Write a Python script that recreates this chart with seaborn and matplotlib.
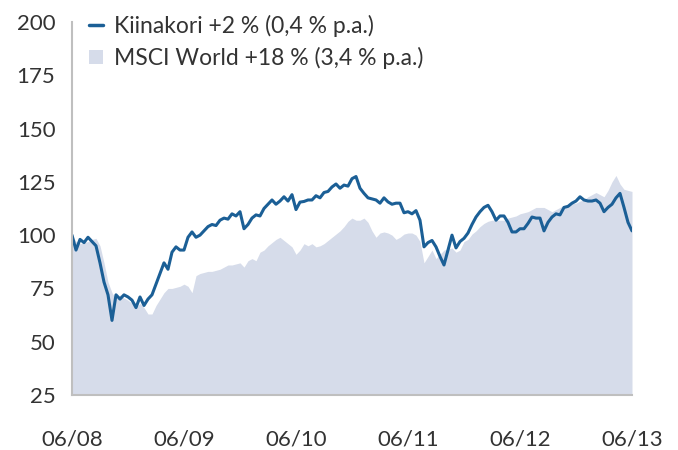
import pandas as pd
import numpy as np
import matplotlib
matplotlib.use('Agg')
import matplotlib.pyplot as plt
from matplotlib.lines import Line2D
from matplotlib.patches import Patch
import seaborn as sns

# Data (indexed to 100, roughly every 13 days from 06/2008 to 06/2013)
kiinakori = [
    100, 93, 98, 96.5, 99, 97, 95, 87, 78, 72,
    60, 72, 70, 72, 71, 69.5, 66, 71, 67, 70,
    72, 77, 82, 87, 84, 92, 94.5, 93, 93, 99,
    101.5, 99, 100, 102, 104, 105, 104.5, 107, 108, 107.5,
    110, 109, 111, 103, 105, 108, 109.5, 109, 112.5, 114.5,
    116.5, 114.5, 116, 118, 116, 119, 112, 115.5, 115.8, 116.5,
    116.5, 118.5, 117.5, 120, 120.5, 122.6, 124, 122, 123.5, 123,
    126.5, 127.5, 122, 119.6, 117.5, 117, 116.5, 115, 117.5, 115.6,
    114.5, 115, 115, 110.5, 111, 110, 111.5, 107, 94.5, 96.5,
    97.5, 94.5, 90, 86, 93, 100, 94, 97, 98.5, 101,
    105, 108.5, 111, 113, 114, 111, 107, 109, 109, 106,
    101.5, 101.5, 103, 103, 105.5, 108.5, 108, 108, 102, 106,
    108.5, 110, 109.5, 113, 113.5, 115, 116, 118, 116.5, 116,
    116, 116.5, 115, 111, 113, 114.5, 117.5, 119.6, 113, 106,
    102,
]
msci_world = [
    100, 97, 96, 96.5, 97, 98, 98.5, 95, 87, 78,
    73, 70, 72, 70.5, 69.5, 68, 66, 68, 66, 63,
    63, 67, 70, 73, 75, 75, 75.5, 76, 77, 76,
    73, 81, 82, 82.5, 83, 83, 83.5, 84, 85, 86,
    86, 86.5, 87, 85, 88, 89, 88, 92, 93, 95,
    96.5, 98, 99, 97.5, 96, 94.5, 91, 93, 96, 95,
    96, 94.5, 95, 96, 97.5, 99, 100.5, 102, 104, 106.5,
    108, 107, 107, 108, 106, 102, 99, 101, 101.5, 101,
    100, 98, 99, 100.5, 101, 101, 100, 97, 87, 90,
    93, 89, 91, 93, 93.5, 94, 92, 93, 97, 98,
    100.5, 102, 104, 105.5, 106.5, 107, 107, 107, 107, 108,
    108.5, 109, 110, 110.5, 111, 112, 113, 113, 113, 112,
    111, 112, 113, 114, 114, 115, 115, 116, 116.5, 118,
    119, 120, 119, 118, 121, 125, 128, 124, 121.5, 121,
    120.5,
]
dates = pd.date_range('2008-06-01', '2013-06-01', periods=len(kiinakori))
tick_dates = pd.to_datetime(['2008-06-01', '2009-06-01', '2010-06-01',
                             '2011-06-01', '2012-06-01', '2013-06-01'])
tick_labels = ['06/08', '06/09', '06/10', '06/11', '06/12', '06/13']
labels = ['Kiinakori +2 % (0,4 % p.a.)', 'MSCI World +18 % (3,4 % p.a.)']

df = pd.DataFrame({'date': dates, 'kiinakori': kiinakori, 'msci': msci_world})

line_color = '#1b5f96'
area_color = '#d6dcea'
text_color = '#333333'

sns.set_theme(style='white')
plt.rcParams['font.family'] = ['Lato', 'DejaVu Sans']

fig = plt.figure(figsize=(6.78, 4.5), dpi=100)
ax = fig.add_axes([72 / 678, 55 / 450, 560 / 678, 373 / 450])

ax.fill_between(df['date'], 0, df['msci'], color=area_color, lw=0)
sns.lineplot(data=df, x='date', y='kiinakori', ax=ax, color=line_color, lw=2.2)

ax.set_xlim(dates[0], dates[-1])
ax.set_ylim(25, 200)
ax.set_yticks([25, 50, 75, 100, 125, 150, 175, 200])
ax.set_xticks(tick_dates)
ax.set_xticklabels(tick_labels)
ax.set_xlabel('')
ax.set_ylabel('')
ax.tick_params(axis='y', length=0, pad=12, labelsize=16, labelcolor=text_color)
ax.tick_params(axis='x', length=0, pad=25, labelsize=16, labelcolor=text_color)

for side in ['top', 'right']:
    ax.spines[side].set_visible(False)
for side in ['left', 'bottom']:
    ax.spines[side].set_color('#bfbfbf')
    ax.spines[side].set_linewidth(1.5)

handles = [Line2D([0], [0], color=line_color, lw=2.5),
           Patch(facecolor=area_color, edgecolor='none')]
leg = fig.legend(handles, labels, loc='upper left',
                 bbox_to_anchor=(78 / 678, 1 - 3 / 450), frameon=False,
                 fontsize=16.5, handlelength=0.6, handleheight=0.6,
                 handletextpad=0.45, labelspacing=0.45, borderpad=0)
for t in leg.get_texts():
    t.set_color(text_color)

fig.savefig('out.png', dpi=100)
